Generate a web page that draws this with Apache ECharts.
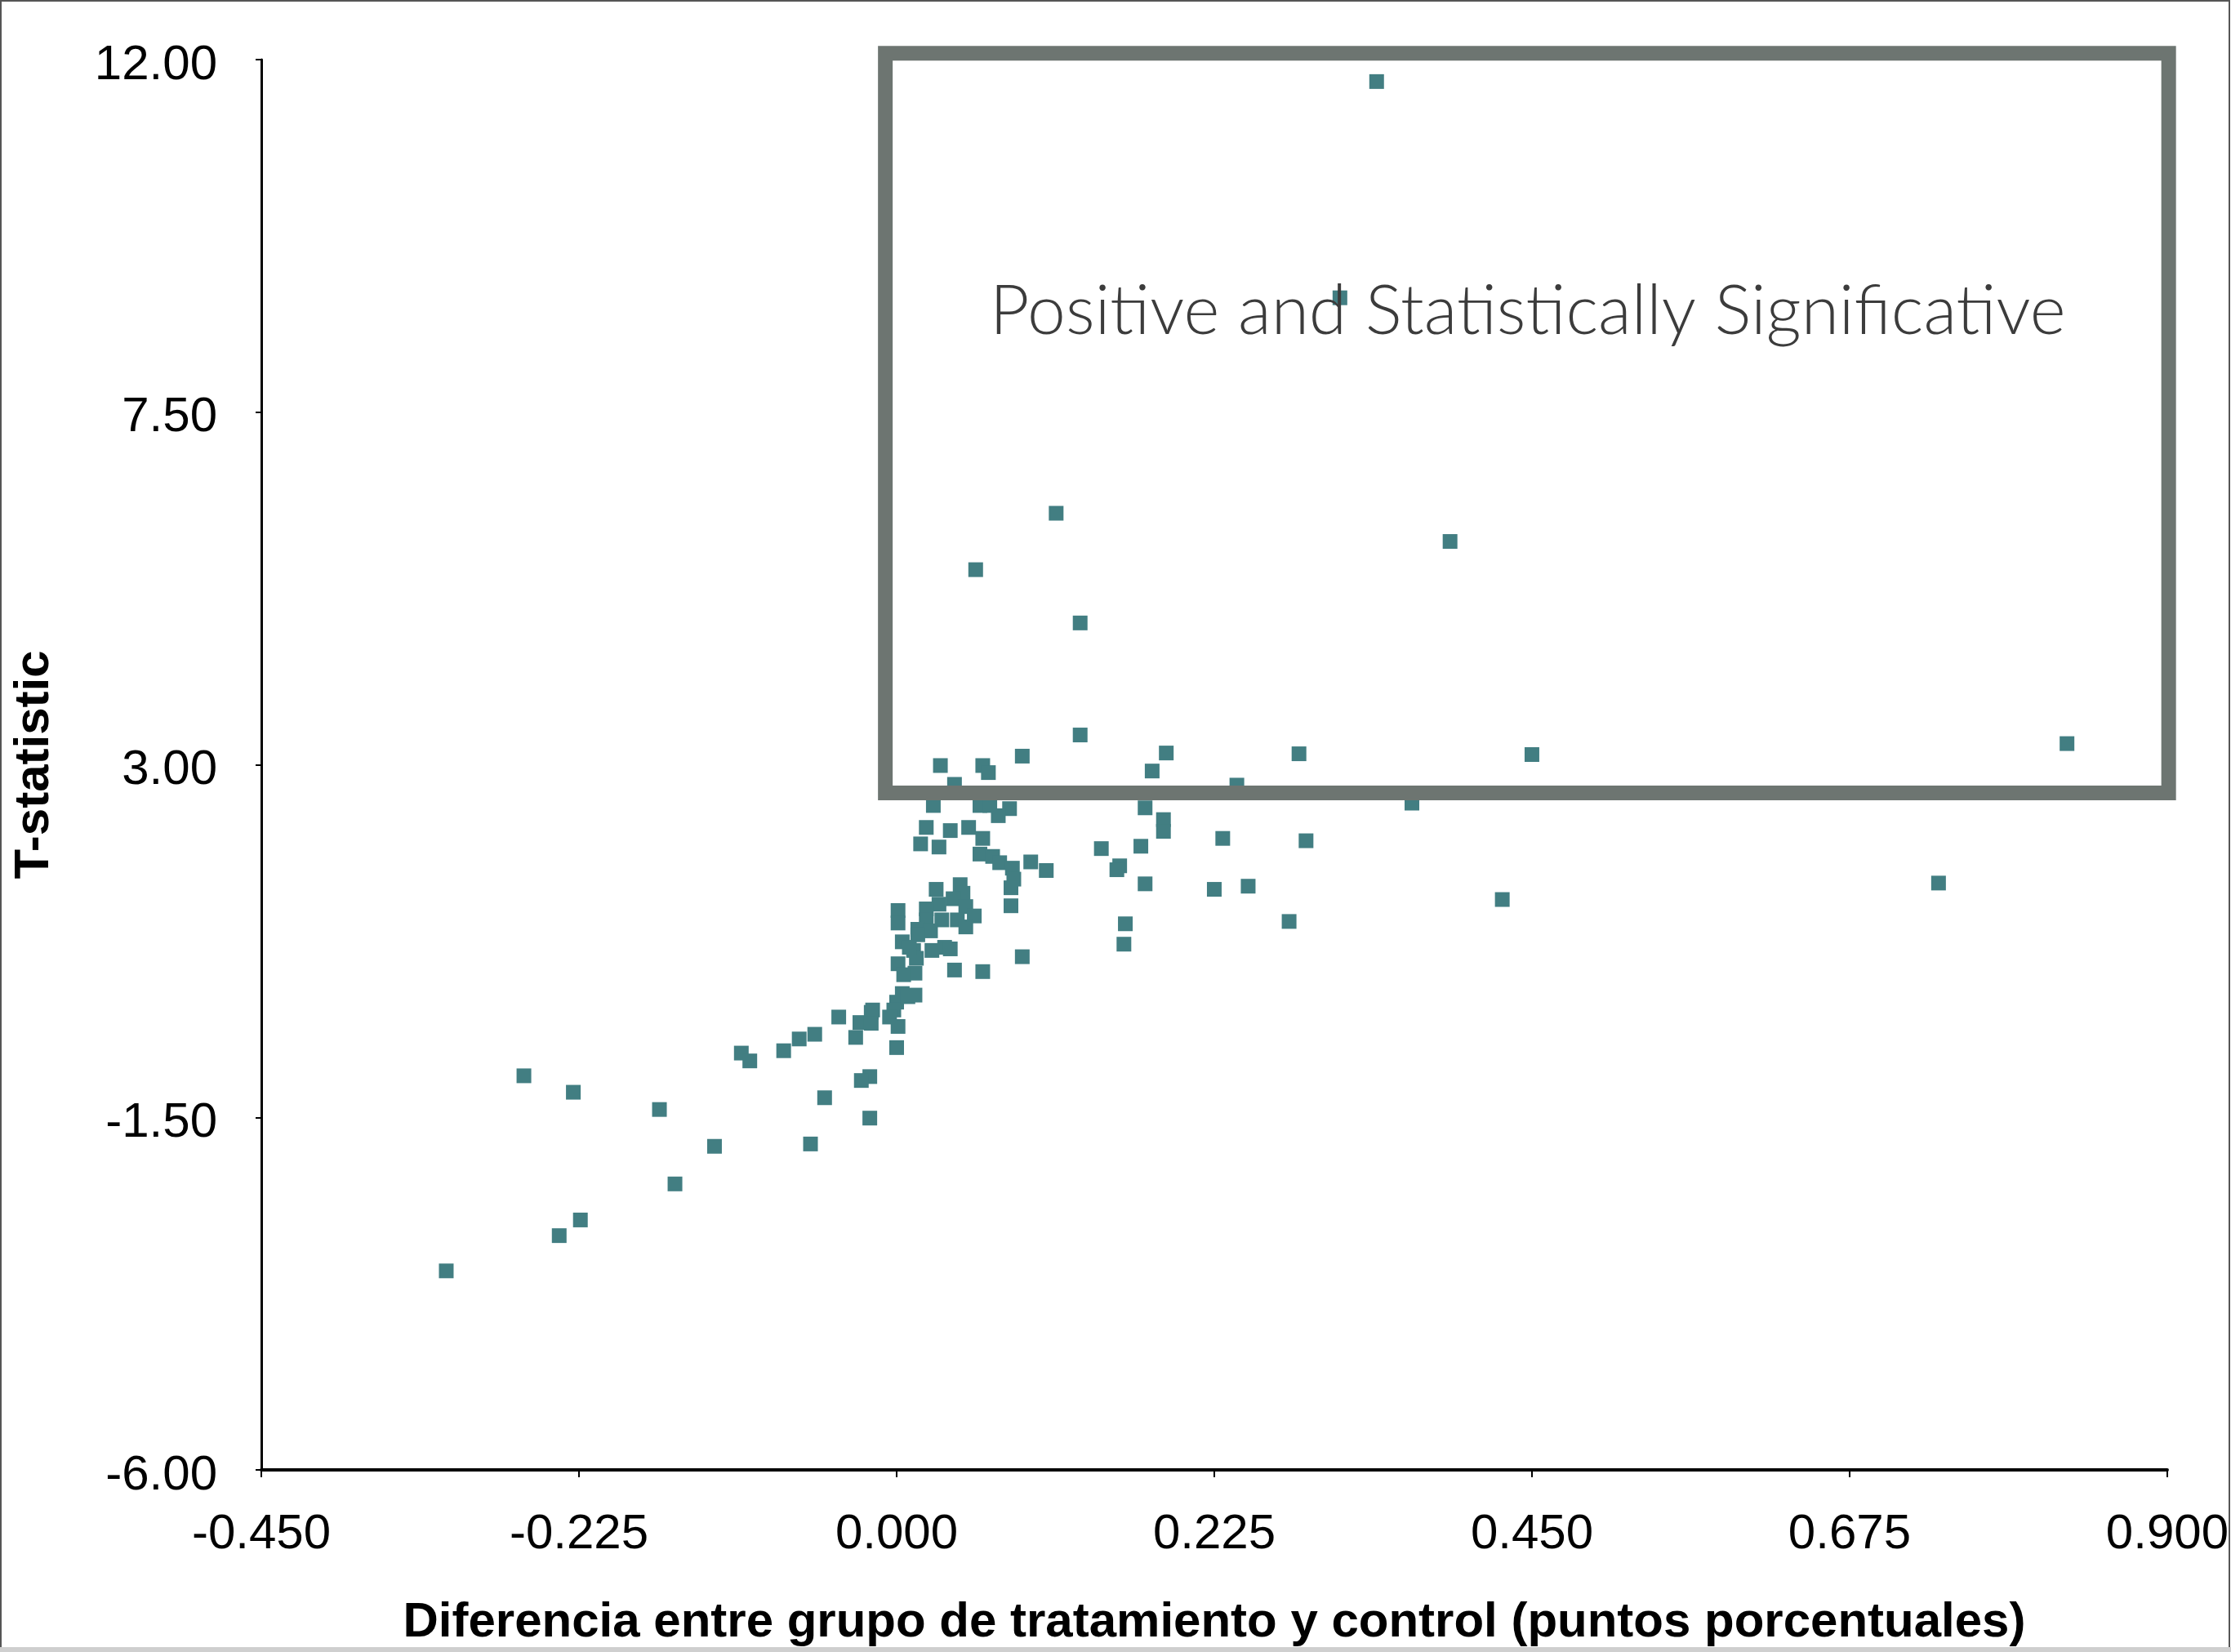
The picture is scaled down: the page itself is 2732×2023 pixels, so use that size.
<!DOCTYPE html>
<html><head><meta charset="utf-8">
<script src="https://cdn.jsdelivr.net/npm/echarts@6/dist/echarts.min.js"></script>
<style>html,body{margin:0;padding:0;background:#fff}#c{width:2732px;height:2023px}</style>
</head><body><div id="c"></div>
<script>
// Difference between treatment and control group (x) and T-statistic (y)
const xDiff = [
  0.340, 0.314, 0.113, 0.392, 0.056, 0.130, 0.130, 0.829, 0.450, 0.285,
  0.191, 0.089, 0.181, 0.031, 0.061, 0.065, 0.041, 0.241, 0.365, 0.026,
  0.059, 0.066, 0.080, 0.072, 0.176, 0.189, 0.189, 0.021, 0.038, 0.051,
  0.231, 0.017, 0.030, 0.061, 0.173, 0.145, 0.290, 0.059, 0.068, 0.073,
  0.082, 0.095, 0.106, 0.158, 0.156, 0.083, 0.081, 0.176, 0.225, 0.249,
  0.738, 0.028, 0.045, 0.047, 0.040, 0.030, 0.021, 0.049, 0.081, 0.429,
  0.001, 0.055, 0.021, 0.043, 0.032, 0.001, 0.162, 0.278, 0.049, 0.015,
  0.024, 0.015, 0.004, 0.161, 0.025, 0.034, 0.038, 0.012, 0.089, 0.014,
  0.001, 0.013, 0.005, 0.041, 0.061, 0.013, 0.004, 0.000, -0.002, -0.005,
  0.001, -0.017, -0.026, -0.029, 0.000, -0.019, -0.025, -0.019, -0.051, -0.061,
  -0.129, -0.157, -0.168, -0.224, -0.239, -0.319, -0.264, -0.229, -0.110, -0.104,
  -0.080, -0.069, -0.058, -0.041, -0.018, -0.018, 0.008, 0.009
];
const tStat = [
  11.72, 8.96, 6.21, 5.85, 5.49, 4.81, 3.38, 3.27, 3.13, 3.14,
  3.15, 3.11, 2.92, 2.99, 2.99, 2.90, 2.75, 2.74, 2.51, 2.48,
  2.48, 2.48, 2.44, 2.35, 2.45, 2.30, 2.15, 2.20, 2.16, 2.20,
  2.06, 1.99, 1.95, 2.06, 1.96, 1.93, 2.03, 1.86, 1.83, 1.75,
  1.68, 1.76, 1.65, 1.71, 1.66, 1.54, 1.43, 1.48, 1.41, 1.45,
  1.49, 1.41, 1.47, 1.36, 1.29, 1.22, 1.16, 1.19, 1.20, 1.28,
  1.14, 1.07, 1.02, 1.02, 1.02, 0.98, 0.97, 1.00, 0.93, 0.90,
  0.88, 0.83, 0.74, 0.71, 0.63, 0.67, 0.65, 0.63, 0.55, 0.53,
  0.46, 0.34, 0.32, 0.38, 0.36, 0.06, 0.08, -0.03, -0.13, -0.22,
  -0.34, -0.13, -0.29, -0.48, -0.61, -0.98, -1.03, -1.51, -1.25, -1.84,
  -1.87, -2.35, -1.40, -2.81, -3.01, -3.46, -0.97, -1.18, -0.68, -0.78,
  -0.65, -0.50, -0.44, -0.22, -0.16, -0.30, 0.04, 0.67
];
const xTicks = [-0.45, -0.225, 0, 0.225, 0.45, 0.675, 0.9];
const yTicks = [-6, -1.5, 3, 7.5, 12];
const xTitle = 'Diferencia entre grupo de tratamiento y control (puntos porcentuales)';
const yTitle = 'T-statistic';
const boxLabel = 'Positive and Statistically Significative';
const boxTopLeft = [-0.008, 12.08];
const boxBottomRight = [0.901, 2.64];
const boxLabelAt = [0.447, 8.78];

const points = xDiff.map((x, i) => [x, tStat[i]]);
const chart = echarts.init(document.getElementById('c'), null, {renderer: 'canvas'});
const labelFont = {fontFamily: 'Liberation Sans', fontSize: 60, color: '#000'};

chart.setOption({
  animation: false,
  backgroundColor: '#fff',
  grid: {left: 320, right: 75, top: 73, bottom: 223, containLabel: false},
  xAxis: {
    type: 'value', min: -0.45, max: 0.9, interval: 0.225,
    axisLine: {show: true, onZero: false, lineStyle: {color: '#000', width: 4}},
    axisTick: {show: true, customValues: xTicks, length: 9, lineStyle: {color: '#000', width: 2}},
    axisLabel: Object.assign({customValues: xTicks, margin: 49, formatter: v => v.toFixed(3)}, labelFont),
    splitLine: {show: false},
    name: xTitle, nameLocation: 'middle', nameGap: 157,
    nameTextStyle: {fontFamily: 'Liberation Sans', fontSize: 60, fontWeight: 'bold', color: '#000'}
  },
  yAxis: {
    type: 'value', min: -6, max: 12, interval: 4.5,
    axisLine: {show: true, onZero: false, lineStyle: {color: '#000', width: 3}},
    axisTick: {show: true, customValues: yTicks, length: 7, lineStyle: {color: '#000', width: 2}},
    axisLabel: Object.assign({customValues: yTicks, margin: 54,
      formatter: v => '{a|' + v.toFixed(2) + '}',
      rich: {a: {fontFamily: 'Liberation Sans', fontSize: 60, color: '#000', padding: [14, 0, 0, 0]}}}, labelFont),
    splitLine: {show: false},
    name: yTitle, nameLocation: 'middle', nameGap: 248,
    nameTextStyle: {fontFamily: 'Liberation Sans', fontSize: 60, fontWeight: 'bold', color: '#000'}
  },
  series: [{
    type: 'scatter', data: points, symbol: 'rect', symbolSize: 18,
    itemStyle: {color: '#427E82', opacity: 1}, z: 2, clip: false
  }]
});

const p1 = chart.convertToPixel({gridIndex: 0}, boxTopLeft);
const p2 = chart.convertToPixel({gridIndex: 0}, boxBottomRight);
const pl = chart.convertToPixel({gridIndex: 0}, boxLabelAt);
chart.setOption({
  graphic: [
    {type: 'rect', z: 100, shape: {x: p1[0], y: p1[1], width: p2[0] - p1[0], height: p2[1] - p1[1]},
     style: {fill: 'none', stroke: '#6d7571', lineWidth: 18}},
    {type: 'text', z: 101, x: pl[0], y: pl[1],
     style: {text: boxLabel, fontFamily: 'Lato', fontWeight: 300, fontSize: 84, fill: '#3c3c3c',
             align: 'center', verticalAlign: 'middle'}},
    {type: 'rect', z: 90, shape: {x: 1, y: 1, width: 2729, height: 2019},
     style: {fill: 'none', stroke: '#555', lineWidth: 2}},
    {type: 'rect', z: 90, shape: {x: 0, y: 2017, width: 2732, height: 6},
     style: {fill: '#cfcfcf'}}
  ]
});
</script></body></html>
